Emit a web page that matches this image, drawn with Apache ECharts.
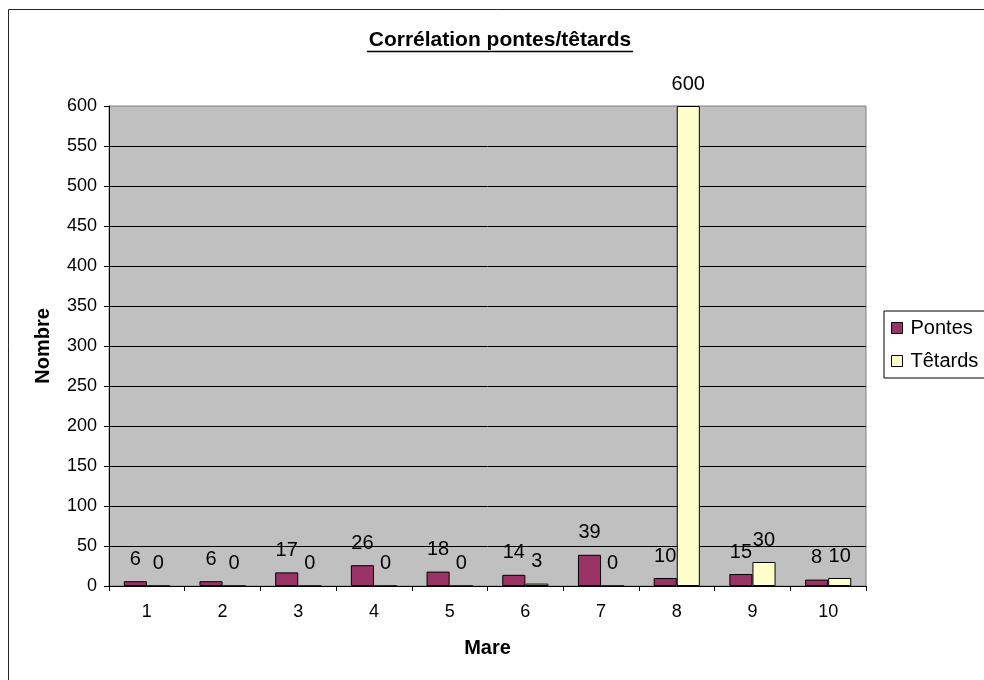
<!DOCTYPE html>
<html>
<head>
<meta charset="utf-8">
<script src="https://cdn.jsdelivr.net/npm/echarts@6/dist/echarts.min.js"></script>
<style>
html,body{margin:0;padding:0;background:#fff;}
#c{width:984px;height:680px;}
</style>
</head>
<body>
<div id="c"></div>
<script>
const categories = ['1','2','3','4','5','6','7','8','9','10'];
const pontes = [6, 6, 17, 26, 18, 14, 39, 10, 15, 8];
const tetards = [0, 0, 0, 0, 0, 3, 0, 600, 30, 10];
const seriesNames = ['Pontes', 'Têtards'];
const titleText = 'Corrélation pontes/têtards';
const xName = 'Mare';
const yName = 'Nombre';

const FONT = "'Liberation Sans', Arial, sans-serif";
const chart = echarts.init(document.getElementById('c'), null, {renderer: 'canvas'});

const labelStyle = {
  show: true, position: 'top', distance: 12,
  color: '#000', fontSize: 20, fontFamily: FONT
};

chart.setOption({
  backgroundColor: '#fff',
  animation: false,
  title: {
    text: titleText,
    left: 495, top: 25, textAlign: 'center',
    textStyle: {fontSize: 21, fontWeight: 'bold', color: '#000', fontFamily: FONT}
  },
  graphic: [
    {type: 'rect', shape: {x: 8.5, y: 9.5, width: 1200, height: 1000},
     style: {fill: 'none', stroke: '#222', lineWidth: 1}, silent: true, z: -10},
    {type: 'line', shape: {x1: 367, y1: 51.5, x2: 633, y2: 51.5},
     style: {stroke: '#000', lineWidth: 1.5}, silent: true}
  ],
  legend: {
    orient: 'vertical',
    left: 884, top: 311,
    data: seriesNames,
    itemWidth: 11, itemHeight: 11, itemGap: 13,
    padding: [7, 12, 7, 7],
    borderColor: '#000', borderWidth: 1,
    icon: 'rect',
    textStyle: {fontSize: 20, color: '#000', fontFamily: FONT, padding: [0, 0, 0, 3]},
    itemStyle: {borderColor: '#000', borderWidth: 1}
  },
  grid: {
    left: 109, top: 106, width: 757, height: 480,
    show: true, backgroundColor: '#C0C0C0',
    borderColor: '#808080', borderWidth: 1
  },
  xAxis: {
    type: 'category',
    data: categories,
    name: xName, nameLocation: 'middle', nameGap: 52,
    nameTextStyle: {fontSize: 20, fontWeight: 'bold', color: '#000', fontFamily: FONT},
    axisLine: {lineStyle: {color: '#000', width: 1}},
    axisTick: {show: true, length: 5, lineStyle: {color: '#000'}},
    axisLabel: {fontSize: 18, color: '#000', fontFamily: FONT, margin: 17},
    splitLine: {show: false}
  },
  yAxis: {
    type: 'value',
    min: 0, max: 600, interval: 50,
    name: yName, nameLocation: 'middle', nameGap: 56,
    nameTextStyle: {fontSize: 20, fontWeight: 'bold', color: '#000', fontFamily: FONT},
    axisLine: {show: true, lineStyle: {color: '#000', width: 1}},
    axisTick: {show: true, length: 5, lineStyle: {color: '#000'}},
    axisLabel: {fontSize: 18, color: '#000', fontFamily: FONT, margin: 12},
    splitLine: {show: true, showMaxLine: false, lineStyle: {color: '#000', width: 1}}
  },
  series: [
    {
      name: seriesNames[0], type: 'bar', data: pontes,
      barGap: '0%', barCategoryGap: '39%',
      itemStyle: {color: '#993366', borderColor: '#000', borderWidth: 1},
      label: labelStyle
    },
    {
      name: seriesNames[1], type: 'bar', data: tetards,
      barGap: '0%', barCategoryGap: '39%',
      itemStyle: {color: '#FFFFCC', borderColor: '#000', borderWidth: 1},
      label: labelStyle
    }
  ]
});
</script>
</body>
</html>
